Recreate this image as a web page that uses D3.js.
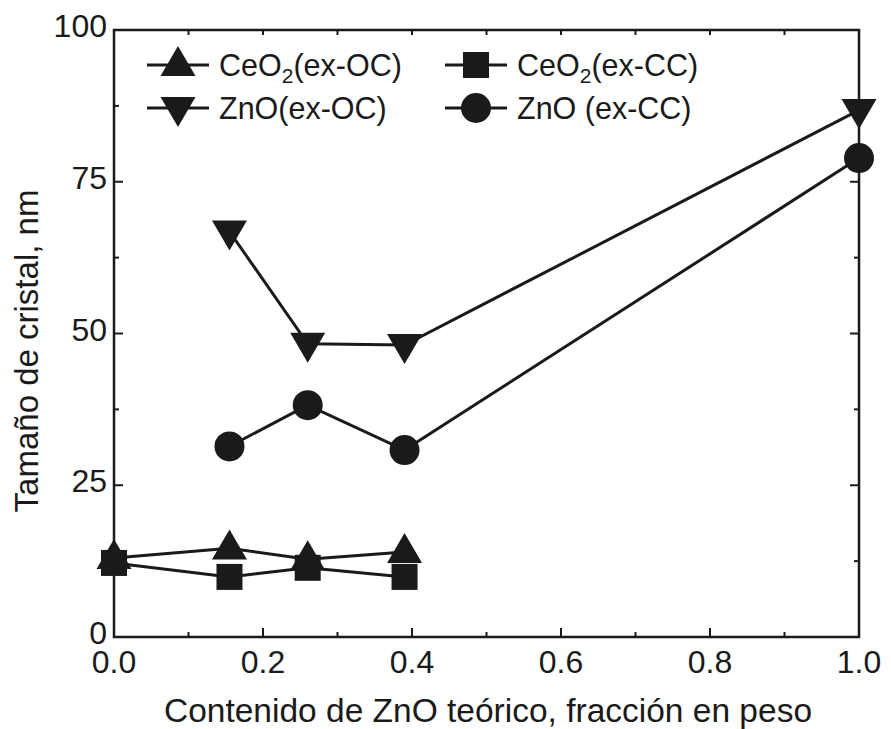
<!DOCTYPE html>
<html lang="es">
<head>
<meta charset="UTF-8">
<title>Tamaño de cristal</title>
<script src="https://d3js.org/d3.v7.min.js"></script>
<style>
  body { margin: 0; background: #fff; }
  text { font-family: "Liberation Sans", Arial, sans-serif; fill: #1a1a1a; }
  .axis-line { stroke: #1a1a1a; stroke-width: 2.5; fill: none; }
  .tick-mark { stroke: #1a1a1a; stroke-width: 2; }
  .series-line { stroke: #1a1a1a; stroke-width: 3; fill: none; }
  .marker { fill: #1a1a1a; }
</style>
</head>
<body>
<svg width="891" height="729"></svg>
<script>
// datos
const ceoOC_x = [0.0, 0.155, 0.26, 0.39];
const ceoOC_y = [13.0, 14.6, 12.8, 14.0];
const ceoCC_x = [0.0, 0.155, 0.26, 0.39];
const ceoCC_y = [12.2, 9.9, 11.4, 9.9];
const znoOC_x = [0.155, 0.26, 0.39, 1.0];
const znoOC_y = [66.8, 48.3, 48.1, 86.8];
const znoCC_x = [0.155, 0.26, 0.39, 1.0];
const znoCC_y = [31.4, 38.2, 30.8, 78.9];

const xTicks = [0.0, 0.2, 0.4, 0.6, 0.8, 1.0];
const yTicks = [0, 25, 50, 75, 100];

const series = [
  { name: "CeO2(ex-OC)", xs: ceoOC_x, ys: ceoOC_y, sym: "up" },
  { name: "CeO2(ex-CC)", xs: ceoCC_x, ys: ceoCC_y, sym: "square" },
  { name: "ZnO(ex-OC)", xs: znoOC_x, ys: znoOC_y, sym: "down" },
  { name: "ZnO (ex-CC)", xs: znoCC_x, ys: znoCC_y, sym: "circle" }
];

const svg = d3.select("svg");
const pLeft = 114, pRight = 859, pTop = 30, pBottom = 637;

const x = d3.scaleLinear().domain([0, 1]).range([pLeft, pRight]);
const y = d3.scaleLinear().domain([0, 100]).range([pBottom, pTop]);

// marcadores
function markerPath(sym) {
  if (sym === "up") return "M0,-19 L17.5,11 L-17.5,11 Z";
  if (sym === "down") return "M0,19 L17.5,-11 L-17.5,-11 Z";
  if (sym === "square") return "M-13,-13 H13 V13 H-13 Z";
  return d3.symbol().type(d3.symbolCircle).size(Math.PI * 15 * 15)();
}

// marco
svg.append("rect").attr("class", "axis-line")
  .attr("x", pLeft).attr("y", pTop)
  .attr("width", pRight - pLeft).attr("height", pBottom - pTop);

// ticks x
const xMinor = d3.range(0.1, 1.0, 0.2);
const ticks = svg.append("g");
xTicks.forEach(v => {
  ticks.append("line").attr("class", "tick-mark")
    .attr("x1", x(v)).attr("x2", x(v)).attr("y1", pBottom).attr("y2", pBottom - 9);
  ticks.append("line").attr("class", "tick-mark")
    .attr("x1", x(v)).attr("x2", x(v)).attr("y1", pTop).attr("y2", pTop + 5);
  ticks.append("text").attr("x", x(v)).attr("y", 673)
    .attr("text-anchor", "middle").style("font-size", "32px")
    .text(d3.format(".1f")(v));
});
xMinor.forEach(v => {
  ticks.append("line").attr("class", "tick-mark")
    .attr("x1", x(v)).attr("x2", x(v)).attr("y1", pBottom).attr("y2", pBottom - 5);
  ticks.append("line").attr("class", "tick-mark")
    .attr("x1", x(v)).attr("x2", x(v)).attr("y1", pTop).attr("y2", pTop + 5);
});

// ticks y
const yMinor = d3.range(12.5, 100, 25);
yTicks.forEach(v => {
  ticks.append("line").attr("class", "tick-mark")
    .attr("x1", pLeft).attr("x2", pLeft + 9).attr("y1", y(v)).attr("y2", y(v));
  ticks.append("line").attr("class", "tick-mark")
    .attr("x1", pRight).attr("x2", pRight - 9).attr("y1", y(v)).attr("y2", y(v));
  ticks.append("text").attr("x", 107).attr("y", y(v) + 7)
    .attr("text-anchor", "end").style("font-size", "32px")
    .text(v);
});
yMinor.forEach(v => {
  ticks.append("line").attr("class", "tick-mark")
    .attr("x1", pLeft).attr("x2", pLeft + 5).attr("y1", y(v)).attr("y2", y(v));
  ticks.append("line").attr("class", "tick-mark")
    .attr("x1", pRight).attr("x2", pRight - 5).attr("y1", y(v)).attr("y2", y(v));
});

// títulos
svg.append("text").attr("x", 488).attr("y", 722)
  .attr("text-anchor", "middle").style("font-size", "33.5px")
  .text("Contenido de ZnO teórico, fracción en peso");
svg.append("text")
  .attr("transform", "translate(38,351) rotate(-90)")
  .attr("text-anchor", "middle").style("font-size", "33px")
  .text("Tamaño de cristal, nm");

// series
const line = d3.line().x(d => x(d[0])).y(d => y(d[1]));
series.forEach(s => {
  const pts = s.xs.map((v, i) => [v, s.ys[i]]);
  svg.append("path").attr("class", "series-line").attr("d", line(pts));
  svg.append("g").selectAll("path").data(pts).enter().append("path")
    .attr("class", "marker")
    .attr("transform", d => `translate(${x(d[0])},${y(d[1])})`)
    .attr("d", markerPath(s.sym));
});

// leyenda
const legendItems = [
  { s: series[0], lx: 147, ly: 65 },
  { s: series[2], lx: 147, ly: 108 },
  { s: series[1], lx: 445, ly: 65 },
  { s: series[3], lx: 445, ly: 108 }
];
legendItems.forEach(it => {
  const g = svg.append("g");
  g.append("line").attr("class", "series-line")
    .attr("x1", it.lx).attr("x2", it.lx + 62).attr("y1", it.ly).attr("y2", it.ly);
  g.append("path").attr("class", "marker")
    .attr("transform", `translate(${it.lx + 31},${it.ly})`)
    .attr("d", markerPath(it.s.sym));
  const t = g.append("text").attr("x", it.lx + 72).attr("y", it.ly + 11)
    .style("font-size", "30.5px");
  const m = it.s.name.match(/^(CeO)2(.*)$/);
  if (m) {
    t.append("tspan").text(m[1]);
    t.append("tspan").attr("dy", 7).style("font-size", "21px").text("2");
    t.append("tspan").attr("dy", -7).text(m[2]);
  } else {
    t.text(it.s.name);
  }
});
</script>
</body>
</html>
